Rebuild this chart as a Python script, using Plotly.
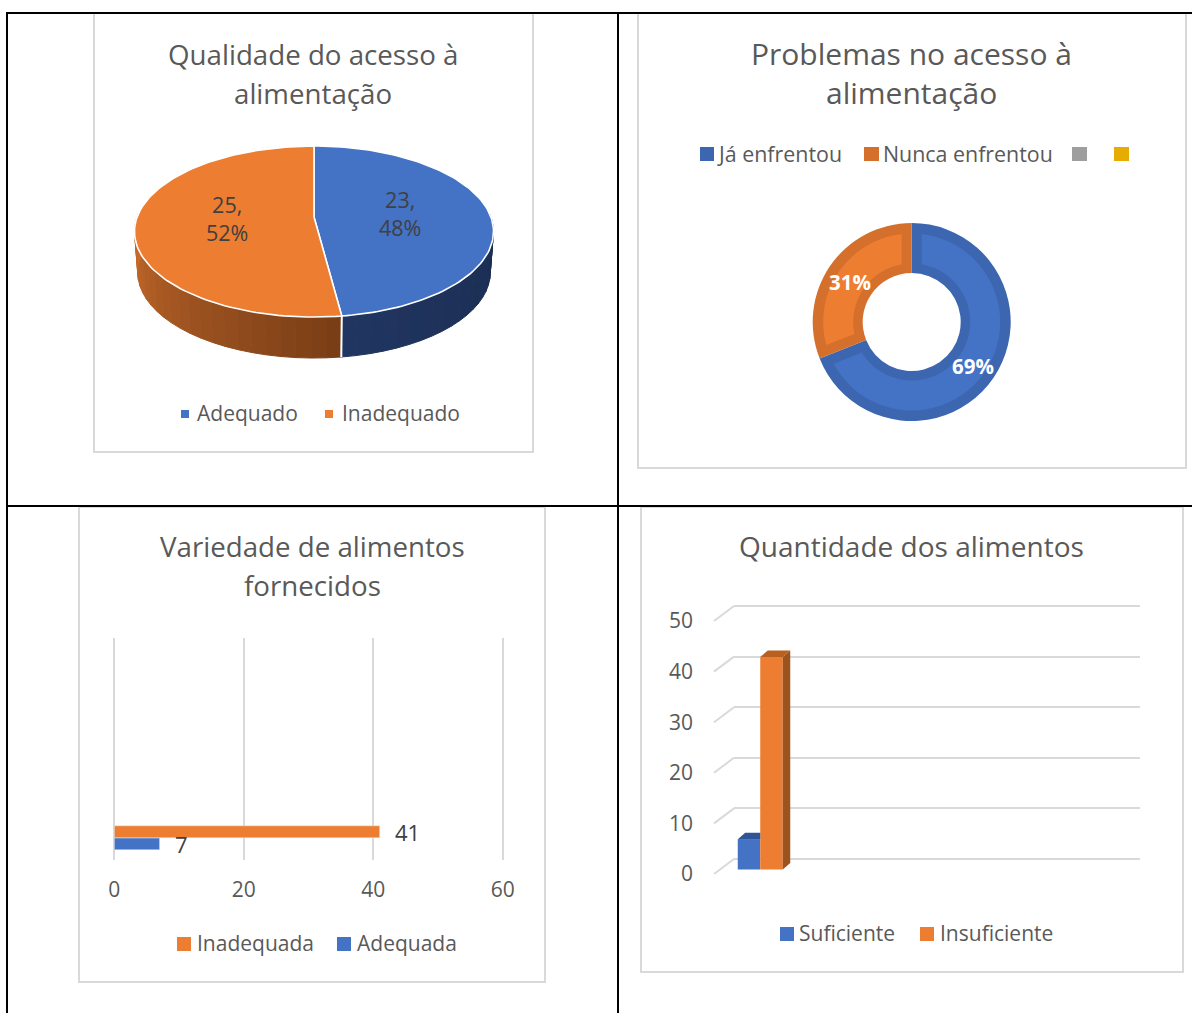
import math
import plotly.graph_objects as go

W, H = 1192, 1013
FONT = "Open Sans"
TXT = "#595959"
GRID = "#d9d9d9"
BLUE, ORANGE = "#4472c4", "#ed7d31"

# ---- data ----
access_labels = ["Adequado", "Inadequado"]
access_values = [23, 25]
problem_labels = ["Já enfrentou", "Nunca enfrentou"]
problem_values = [69, 31]
variety_labels = ["Adequada", "Inadequada"]
variety_values = [7, 41]
variety_ticks = [0, 20, 40, 60]
quantity_labels = ["Suficiente", "Insuficiente"]
quantity_values = [6, 42]
quantity_ticks = [0, 10, 20, 30, 40, 50]


def px(x):
    return x / W


def py(y):
    return 1 - y / H


def dom(a, b):
    return [px(a), px(b)]


def ydom(top, bottom):
    return [py(bottom), py(top)]


fig = go.Figure()
shapes, notes = [], []


def note(text, x, y, size, color=TXT, anchor="center", bold=False):
    notes.append(dict(text=f"<b>{text}</b>" if bold else text, x=px(x), y=py(y), xref="paper", yref="paper",
                      xanchor=anchor, yanchor="middle", showarrow=False, align="center",
                      font=dict(family=FONT, size=size, color=color)))


def rect(x0, y0, x1, y1, fill=None, line=None, width=0, layer="above"):
    shapes.append(dict(type="rect", xref="paper", yref="paper", x0=px(x0), x1=px(x1), y0=py(y0), y1=py(y1),
                       fillcolor=fill or "rgba(0,0,0,0)", line=dict(color=line or "rgba(0,0,0,0)", width=width),
                       layer=layer))


def hline(x0, y0, x1, y1, color="black", width=2):
    shapes.append(dict(type="line", xref="paper", yref="paper", x0=px(x0), x1=px(x1), y0=py(y0), y1=py(y1),
                       line=dict(color=color, width=width), layer="below"))


# chart frames
for f in [(94, 13, 533, 452), (638, 13, 1186, 468), (79, 507, 545, 982), (641, 507, 1183, 972)]:
    rect(*f, line=GRID, width=2, layer="below")
# table rules
hline(7, 13, W, 13)
hline(7, 506, W, 506)
hline(7, 12, 7, H)
hline(618, 12, 618, H)

# ---- chart 1: tilted pie, drawn from the values ----
RX, RY, TILT, HEAD, DEPTH = 176.9, 85.5, 0.17, 14.5, 41


def tilt_point(deg, rho=1.0, drop=0.0, shrink=1.0):
    t = math.radians(deg)
    u, v = rho * math.sin(t), rho * math.cos(t)
    w = 1 + TILT * v
    return shrink * RX * u / w, (RY * v + HEAD) / w - drop


total = sum(access_values)
split = access_values[0] / total * 360
axis1 = dict(xaxis=dict(domain=dom(114, 514), range=[-200, 200], visible=False, fixedrange=True, automargin=False),
             yaxis=dict(domain=ydom(101.5, 391.5), range=[-160, 130], visible=False, fixedrange=True, automargin=False))


def mix(c0, c1, f):
    return "rgb(" + ",".join(str(round(a + (b - a) * f)) for a, b in zip(c0, c1)) + ")"


def side(d0, d1, c0, c1):
    n = max(1, int(abs(d1 - d0) // 4))
    for i in range(n):
        a = d0 + (d1 - d0) * i / n
        b = d0 + (d1 - d0) * (i + 1) / n
        p0, p1 = tilt_point(a), tilt_point(b)
        q0, q1 = tilt_point(a, drop=DEPTH, shrink=0.982), tilt_point(b, drop=DEPTH, shrink=0.982)
        col = mix(c0, c1, i / max(1, n - 1))
        fig.add_trace(go.Scatter(x=[p0[0], p1[0], q1[0], q0[0], p0[0]], y=[p0[1], p1[1], q1[1], q0[1], p0[1]],
                                 mode="lines", fill="toself", fillcolor=col, line=dict(color=col, width=1),
                                 hoverinfo="skip", showlegend=False, xaxis="x", yaxis="y"))


side(88, split, (26, 44, 80), (32, 53, 96))
side(split, 272, (122, 62, 22), (200, 108, 44))
a, b = tilt_point(split), tilt_point(split, drop=DEPTH, shrink=0.982)
fig.add_trace(go.Scatter(x=[a[0], b[0]], y=[a[1], b[1]], mode="lines", line=dict(color="white", width=2),
                         hoverinfo="skip", showlegend=False, xaxis="x", yaxis="y"))
for d0, d1, col, name in [(0, split, BLUE, access_labels[0]), (split, 360, ORANGE, access_labels[1])]:
    pts = [tilt_point(d0 + (d1 - d0) * i / 120) for i in range(121)]
    xs = [0] + [p[0] for p in pts] + [0]
    ys = [HEAD] + [p[1] for p in pts] + [HEAD]
    fig.add_trace(go.Scatter(x=xs, y=ys, mode="lines", fill="toself", fillcolor=col,
                             line=dict(color="white", width=1.6), name=name, showlegend=False,
                             hoverinfo="name", xaxis="x", yaxis="y"))
acc = 0
for v in access_values:
    mid = (acc + v / 2) / total * 360
    acc += v
    x, y = tilt_point(mid, rho=0.49)
    notes.append(dict(text=f"{v},<br>{round(v / total * 100)}%", x=x, y=y, xref="x", yref="y", showarrow=False,
                      yshift=1, font=dict(family=FONT, size=21.5, color="#404040"), align="center"))

TITLE, LEG = 27.7, 21
note("Qualidade do acesso à", 313, 54, TITLE)
note("alimentação", 313, 93, TITLE)
rect(181, 410, 189, 418, fill=BLUE)
note(access_labels[0], 195, 413, LEG, anchor="left")
rect(325, 410, 333, 418, fill=ORANGE)
note(access_labels[1], 340, 413, LEG, anchor="left")

# ---- chart 2: doughnut ----
CX, CY, RO, RI = 911.7, 322, 99, 49
DARK = ["#3c66b0", "#d4702b"]
LIGHT = [BLUE, ORANGE]
fig.add_trace(go.Pie(labels=problem_labels, values=problem_values, hole=RI / RO, sort=False, direction="clockwise",
                     rotation=0, textinfo="none", marker=dict(colors=DARK, line=dict(width=0)), showlegend=False,
                     domain=dict(x=dom(CX - RO, CX + RO), y=ydom(CY - RO, CY + RO))))
acc = 0
ptotal = sum(problem_values)
for v, col in zip(problem_values, LIGHT):
    d0, d1 = acc / ptotal * 360, (acc + v) / ptotal * 360
    acc += v
    path = []
    for r, s, e in [(88.5, d0, d1), (58.5, d1, d0)]:
        off = math.degrees(math.asin(10 / r)) * (1 if s < e else -1)
        for i in range(61):
            t = math.radians(s + off + (e - s - 2 * off) * i / 60)
            path.append((px(CX + r * math.sin(t)), py(CY - r * math.cos(t))))
    shapes.append(dict(type="path", xref="paper", yref="paper", layer="above", fillcolor=col, line=dict(width=0),
                       path="M" + "L".join(f"{p[0]:.5f},{p[1]:.5f}" for p in path) + "Z"))
    t = math.radians((d0 + d1) / 2)
    note(f"{v}%", CX + 74 * math.sin(t), CY - 74 * math.cos(t) + 2, 20.5, color="white", bold=True)

note("Problemas no acesso à", 911, 53.5, 30)
note("alimentação", 911, 92.5, 30)
rect(700, 147, 714, 161, fill=DARK[0])
note(problem_labels[0], 715, 153, 21.4, anchor="left")
rect(864, 147, 879, 161, fill=DARK[1])
note(problem_labels[1], 881, 153, 21.4, anchor="left")
rect(1072, 147, 1087, 161, fill="#9e9e9e")
rect(1114, 147, 1129, 161, fill="#e6ad00")

# ---- chart 3: horizontal bars ----
BAR_H = 0.27
fig.add_trace(go.Bar(y=[0], x=[variety_values[0]], orientation="h", width=BAR_H, offset=-BAR_H, marker_color=BLUE,
                     name=variety_labels[0], showlegend=False, xaxis="x3", yaxis="y3"))
fig.add_trace(go.Bar(y=[0], x=[variety_values[1]], orientation="h", width=BAR_H, offset=0, marker_color=ORANGE,
                     name=variety_labels[1], showlegend=False, xaxis="x3", yaxis="y3"))
for v, off in zip(variety_values, [-6, 6]):
    notes.append(dict(text=str(v), x=v, y=0, xref="x3", yref="y3", xanchor="left", showarrow=False, xshift=13,
                      yshift=off, font=dict(family=FONT, size=22, color="#404040")))
axis3 = dict(
    xaxis3=dict(domain=dom(114.3, 502.7 + 6.473), range=[0, 61], tickvals=variety_ticks, showgrid=True, gridcolor=GRID,
                gridwidth=2, zeroline=True, zerolinecolor=GRID, zerolinewidth=2, showline=False, anchor="y3",
                ticks="", ticklabelstandoff=15, tickfont=dict(family=FONT, size=LEG, color=TXT), fixedrange=True,
                automargin=False),
    yaxis3=dict(domain=ydom(638, 860), range=[-0.5, 4.5], visible=False, anchor="x3", fixedrange=True, automargin=False))
note("Variedade de alimentos", 312, 546, TITLE)
note("fornecidos", 312, 585, TITLE)
rect(177, 937, 191, 951, fill=ORANGE)
note(variety_labels[1], 194.5, 943, LEG, anchor="left")
rect(337, 937, 351, 951, fill=BLUE)
note(variety_labels[0], 354.5, 943, LEG, anchor="left")

# ---- chart 4: 3-D style columns ----
UNIT = 5.06          # pixels per unit on the front plane
BACK = 15 / UNIT     # rise of the back wall, in value units
BASE = 4.5 / UNIT
DX, DY = 7.5, 6.5 / UNIT
fig.add_trace(go.Scatter(x=[], y=[], hoverinfo="skip", showlegend=False, xaxis="x4", yaxis="y4"))
axis4 = dict(
    xaxis4=dict(domain=dom(734, 1140), range=[0, 1], visible=False, anchor="y4", fixedrange=True, automargin=False),
    yaxis4=dict(domain=ydom(606 - 5.06, 859), range=[0, 51], tickvals=quantity_ticks, showticklabels=False, showgrid=True,
                gridcolor=GRID, gridwidth=2, zeroline=True, zerolinecolor=GRID, zerolinewidth=2, showline=False,
                anchor="x4", ticks="", fixedrange=True, automargin=False),
    xaxis5=dict(domain=dom(700, 1150), range=[0, 450], visible=False, anchor="y5", fixedrange=True, automargin=False),
    yaxis5=dict(domain=ydom(874 - 55 * UNIT, 874), range=[0, 55], tickvals=quantity_ticks, showgrid=False,
                zeroline=False, showline=False, anchor="x5", ticks="", ticklabelstandoff=6,
                tickfont=dict(family=FONT, size=LEG, color=TXT), fixedrange=True, automargin=False))
ox, oy = [], []
for t in quantity_ticks:
    ox += [14, 34, None]
    oy += [t, t + BACK, None]
fig.add_trace(go.Scatter(x=ox, y=oy, mode="lines", line=dict(color=GRID, width=2), hoverinfo="skip",
                         showlegend=False, xaxis="x5", yaxis="y5"))
BAR_W = 22.5
CENTERS = [49, 71.5]
for i, (v, col, c, top_col) in enumerate(zip(quantity_values, [BLUE, ORANGE], CENTERS, ["#2f5597", "#b8601f"])):
    fig.add_trace(go.Bar(x=[c], y=[v], base=BASE, width=BAR_W, offset=-BAR_W / 2, marker=dict(color=col, line=dict(width=0)),
                         name=quantity_labels[i], showlegend=False, xaxis="x5", yaxis="y5"))
    x0, x1, tp = c - BAR_W / 2, c + BAR_W / 2, v + BASE
    if i == 0:
        xs, ys = [x0, x0 + DX, x1, x1, x0], [tp, tp + DY, tp + DY, tp, tp]
    else:
        xs, ys = [x0, x0 + DX, x1 + DX, x1, x0], [tp, tp + DY, tp + DY, tp, tp]
    fig.add_trace(go.Scatter(x=xs, y=ys, mode="lines", fill="toself", fillcolor=top_col, line=dict(width=0),
                             hoverinfo="skip", showlegend=False, xaxis="x5", yaxis="y5"))
    if i == 1:
        xs = [x1, x1 + DX, x1 + DX, x1, x1]
        ys = [tp, tp + DY, BASE + DY, BASE, tp]
        fig.add_trace(go.Scatter(x=xs, y=ys, mode="lines", fill="toself", fillcolor="#9c5320", line=dict(width=0),
                                 hoverinfo="skip", showlegend=False, xaxis="x5", yaxis="y5"))

note("Quantidade dos alimentos", 911, 546, 28)
rect(780, 927, 794, 941, fill=BLUE)
note(quantity_labels[0], 796.5, 933, LEG, anchor="left")
rect(920, 927, 934, 941, fill=ORANGE)
note(quantity_labels[1], 937.5, 933, LEG, anchor="left")

fig.update_layout(width=W, height=H, margin=dict(l=0, r=0, t=0, b=0, autoexpand=False), autosize=False,
                  paper_bgcolor="white", plot_bgcolor="rgba(0,0,0,0)", barmode="overlay", showlegend=False,
                  shapes=shapes, annotations=notes, hovermode="closest", **axis1, **axis3, **axis4)
fig.write_html("out.html", config=dict(displayModeBar=False),
               post_script="document.documentElement.style.cssText='margin:0;padding:0;overflow:hidden';"
                           "document.body.style.cssText='margin:0;padding:0;overflow:hidden';")
